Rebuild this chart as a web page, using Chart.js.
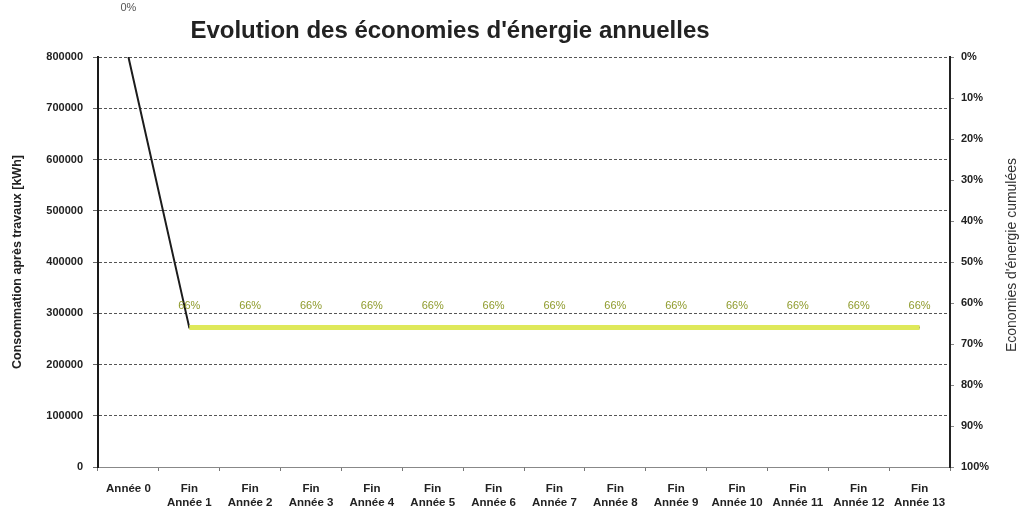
<!DOCTYPE html>
<html lang="fr">
<head>
  <meta charset="UTF-8" />
  <title>Evolution des économies d'énergie annuelles</title>
  <style>
    * { box-sizing: border-box; }
    body, html {
      margin: 0; padding: 0;
      background: #fff;
      font-family: 'Liberation Sans', Arial, sans-serif;
    }
    #wrap {
      position: relative;
      width: 1022px;
      height: 518px;
    }
  </style>
</head>
<body>
  <div id="wrap">
    <canvas id="ecoChart"></canvas>
  </div>

  <script src="https://cdn.jsdelivr.net/npm/chart.js"></script>
  <script>
    // categories (axe X)
    const categories = [
      'Année 0',
      ['Fin', 'Année 1'], ['Fin', 'Année 2'], ['Fin', 'Année 3'], ['Fin', 'Année 4'],
      ['Fin', 'Année 5'], ['Fin', 'Année 6'], ['Fin', 'Année 7'], ['Fin', 'Année 8'],
      ['Fin', 'Année 9'], ['Fin', 'Année 10'], ['Fin', 'Année 11'], ['Fin', 'Année 12'],
      ['Fin', 'Année 13']
    ];

    // consommation après travaux [kWh]
    const consumption = [800000, 272000, 272000, 272000, 272000, 272000, 272000,
                         272000, 272000, 272000, 272000, 272000, 272000, 272000];

    // économies d'énergie cumulées [%]
    const savings = [0, 66, 66, 66, 66, 66, 66, 66, 66, 66, 66, 66, 66, 66];

    const titleText = "Evolution des économies d'énergie annuelles";
    const leftAxisTitle = 'Consommation après travaux [kWh]';
    const rightAxisTitle = "Economies d'énergie cumulées";

    const fam = "'Liberation Sans', Arial, sans-serif";
    const tickFont = { family: fam, size: 11, weight: 'bold' };
    const yellow = '#dfe95a';

    // titre + titre de l'axe droit (lu de bas en haut comme à gauche)
    const decorPlugin = {
      id: 'decor',
      afterDraw(chart) {
        const c = chart.ctx;
        c.save();
        c.fillStyle = '#222';
        c.font = 'bold 24px ' + fam;
        c.textAlign = 'center';
        c.textBaseline = 'middle';
        c.fillText(titleText, 450, 31);

        c.translate(1012, 255);
        c.rotate(-Math.PI / 2);
        c.font = '14px ' + fam;
        c.fillStyle = '#333';
        c.fillText(rightAxisTitle, 0, 0);
        c.restore();
      }
    };

    // étiquettes de pourcentage au-dessus de la courbe des économies
    const labelPlugin = {
      id: 'pctLabels',
      afterDatasetsDraw(chart) {
        const meta = chart.getDatasetMeta(1);
        const c = chart.ctx;
        c.save();
        c.textAlign = 'center';
        c.textBaseline = 'middle';
        meta.data.forEach((pt, i) => {
          const off = i === 0 ? 49 : 22;
          c.font = '11px ' + fam;
          c.fillStyle = i === 0 ? '#555' : '#8f9b2c';
          c.fillText(savings[i] + '%', pt.x, pt.y - off);
        });
        c.restore();
      }
    };

    const ctx = document.getElementById('ecoChart').getContext('2d');
    const chart = new Chart(ctx, {
      type: 'line',
      data: {
        labels: categories,
        datasets: [{
          label: 'Consommation',
          data: consumption,
          yAxisID: 'y',
          borderColor: '#1c1c1c',
          borderWidth: 2,
          pointRadius: 0,
          tension: 0,
          order: 2
        }, {
          label: 'Economies',
          data: savings,
          yAxisID: 'y1',
          borderColor: yellow,
          borderWidth: 5,
          pointRadius: 0,
          tension: 0,
          order: 1,
          segment: {
            borderColor: s => s.p0DataIndex === 0 ? 'rgba(0,0,0,0)' : yellow
          }
        }]
      },
      options: {
        responsive: true,
        maintainAspectRatio: false,
        animation: false,
        layout: { padding: { top: 57, left: 0, right: 0, bottom: 0 } },
        plugins: {
          legend: { display: false },
          tooltip: { enabled: false },
          title: { display: false }
        },
        scales: {
          x: {
            offset: true,
            afterFit: s => { s.height = 51; },
            grid: {
              offset: true,
              drawOnChartArea: false,
              tickLength: 4,
              color: '#777'
            },
            border: { color: '#888', width: 1 },
            ticks: {
              color: '#222',
              font: { family: fam, size: 11.5, weight: 'bold' },
              maxRotation: 0,
              autoSkip: false,
              padding: 11
            }
          },
          y: {
            position: 'left',
            min: 0,
            max: 800000,
            afterFit: s => { s.width = 98; },
            ticks: {
              stepSize: 100000,
              color: '#222',
              font: tickFont,
              padding: 10,
              callback: v => String(v)
            },
            grid: {
              color: '#555',
              tickLength: 5,
              tickColor: '#666'
            },
            border: { color: '#1a1a1a', width: 2, dash: [3, 2] },
            title: {
              display: true,
              text: leftAxisTitle,
              color: '#222',
              font: { family: fam, size: 12.5, weight: 'bold' },
              padding: { top: 10, bottom: 0 }
            }
          },
          y1: {
            position: 'right',
            min: 0,
            max: 100,
            reverse: true,
            afterFit: s => { s.width = 72; },
            ticks: {
              stepSize: 10,
              color: '#222',
              font: tickFont,
              padding: 7,
              callback: v => v + '%'
            },
            grid: {
              drawOnChartArea: false,
              tickLength: 4,
              color: '#888'
            },
            border: { color: '#222', width: 2 }
          }
        }
      },
      plugins: [decorPlugin, labelPlugin]
    });
  </script>
</body>
</html>
